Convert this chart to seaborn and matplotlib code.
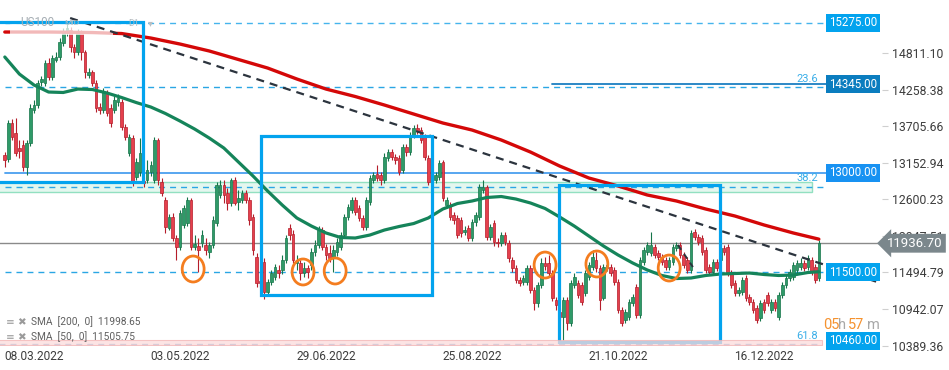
import matplotlib
matplotlib.use("Agg")
import matplotlib.pyplot as plt
import matplotlib.transforms as mtransforms
from matplotlib.patches import Rectangle, Ellipse
import numpy as np
import pandas as pd
import seaborn as sns

# daily candles US100, bar index 0..223
opens = [13272, 13211, 13756, 13605, 13378, 13423, 13090, 13453, 13953, 14028, 14376, 14361,
         14664, 14452, 14709, 14755, 14967, 15118, 15163, 14906, 14830, 15133, 14830, 14482,
         14528, 14361, 13998, 13953, 14210, 13983, 13953, 14074, 14074, 13695, 13302, 13529,
         12939, 13014, 12878, 12894, 13014, 12894, 13499, 12863, 12591, 12167, 12334, 12016,
         11880, 12213, 12243, 12591, 11880, 11895, 11940, 11910, 11804, 11910, 12243, 12667,
         12818, 12697, 12546, 12894, 12561, 12591, 12697, 12591, 12334, 11729, 11365, 11653,
         11199, 11350, 11426, 11532, 11532, 11683, 12167, 12076, 11638, 11638, 11486, 11562,
         11607, 11804, 11910, 12137, 11880, 11789, 11729, 11804, 11880, 12061, 12334, 12440,
         12591, 12470, 12319, 12182, 12561, 12894, 12984, 12969, 12894, 13226, 13317, 13241,
         13226, 13045, 13393, 13317, 13574, 13680, 13650, 13544, 13226, 12939, 12894, 12939,
         13166, 12515, 12515, 12364, 12319, 12288, 12107, 12167, 12016, 12258, 12334, 12742,
         12788, 12031, 12243, 11955, 11940, 12061, 11940, 11683, 11562, 11381, 11350, 11350,
         11562, 11229, 11033, 11305, 11638, 11638, 11486, 11078, 10897, 10821, 11078, 10730,
         11305, 11335, 11305, 11184, 11426, 11577, 11683, 11562, 11108, 11562, 11577, 11532,
         11350, 10927, 10776, 10821, 11033, 11275, 10851, 11653, 11804, 11789, 11880, 11789,
         11729, 11683, 11577, 11653, 11865, 11910, 11759, 11683, 11532, 12107, 12031, 12016,
         11834, 11577, 11502, 11653, 11683, 11865, 11880, 11486, 11335, 11184, 11199, 11411,
         11123, 11048, 10957, 10806, 11048, 11154, 10927, 11048, 10821, 11154, 11305, 11411,
         11426, 11532, 11577, 11638, 11577, 11683, 11577, 11411]
closes = [13196, 13756, 13544, 13302, 13332, 13090, 13453, 13983, 14028, 14361, 14422, 14664,
          14452, 14740, 14755, 14982, 15133, 15194, 14906, 14830, 15133, 14830, 14528, 14528,
          14361, 13983, 13953, 14225, 13907, 13756, 14104, 14134, 13695, 13544, 13544, 12863,
          13166, 13302, 12848, 13045, 13120, 13499, 12894, 12697, 12182, 12334, 12016, 11880,
          12394, 12470, 12591, 11880, 11925, 11834, 12061, 11834, 11910, 12288, 12818, 12818,
          12667, 12546, 12894, 12546, 12621, 12697, 12591, 12288, 11834, 11335, 11335, 11199,
          11350, 11486, 11577, 11486, 11683, 12016, 12061, 11683, 11683, 11486, 11562, 11502,
          11804, 11910, 12137, 11880, 11759, 11713, 11834, 11955, 12061, 12334, 12485, 12591,
          12409, 12319, 12182, 12591, 12924, 12969, 12924, 12894, 13241, 13317, 13241, 13196,
          13014, 13393, 13317, 13574, 13680, 13635, 13499, 13241, 12863, 12863, 12969, 13151,
          12621, 12591, 12334, 12288, 12061, 12092, 12137, 12016, 12258, 12364, 12788, 12788,
          12031, 12182, 11955, 11940, 12061, 11955, 11713, 11562, 11381, 11335, 11411, 11562,
          11229, 11033, 11305, 11638, 11592, 11486, 11108, 11002, 10821, 11078, 10730, 11335,
          11426, 11154, 11048, 11486, 11607, 11729, 11562, 11078, 11577, 11607, 11486, 11350,
          10927, 10730, 10897, 11048, 11123, 10851, 11683, 11834, 11910, 11910, 11759, 11729,
          11653, 11577, 11683, 11880, 11910, 11759, 11607, 11532, 12092, 12031, 11955, 11804,
          11532, 11502, 11653, 11562, 11865, 11804, 11486, 11305, 11184, 11229, 11381, 11108,
          11048, 10927, 10776, 11033, 10927, 11033, 11048, 10957, 11154, 11305, 11411, 11502,
          11607, 11638, 11638, 11562, 11713, 11502, 11381, 11936.7]
highs = [13317, 13801, 13816, 13831, 13499, 13499, 13499, 14043, 14104, 14407, 14467, 14709,
         14740, 14785, 14830, 15042, 15194, 15285, 15209, 14951, 15179, 15163, 14861, 14588,
         14558, 14407, 14058, 14285, 14255, 14043, 14164, 14195, 14119, 13741, 13589, 13574,
         13226, 13529, 12939, 13196, 13181, 13544, 13529, 12924, 12636, 12379, 12394, 12061,
         12440, 12515, 12636, 12621, 12061, 12016, 12137, 12016, 11955, 12349, 12863, 12894,
         12894, 12773, 12924, 12939, 12742, 12742, 12742, 12636, 12379, 11789, 11441, 11713,
         11396, 11532, 11623, 11607, 11759, 12061, 12228, 12137, 11759, 11683, 11653, 11607,
         11865, 11986, 12197, 12182, 11925, 11910, 11910, 12016, 12107, 12379, 12530, 12636,
         12636, 12515, 12364, 12636, 12969, 13014, 13120, 13014, 13302, 13363, 13363, 13287,
         13272, 13438, 13438, 13620, 13726, 13741, 13695, 13589, 13272, 12984, 13014, 13196,
         13196, 12636, 12561, 12409, 12364, 12334, 12197, 12213, 12303, 12409, 12833, 12894,
         12818, 12228, 12288, 12016, 12107, 12107, 11986, 11729, 11607, 11426, 11456, 11607,
         11607, 11275, 11350, 11713, 11729, 11759, 11532, 11123, 10957, 11123, 11123, 11381,
         11486, 11381, 11350, 11532, 11653, 11834, 11804, 11607, 11623, 11668, 11623, 11577,
         11396, 10972, 10942, 11093, 11169, 11320, 11729, 11880, 11955, 12107, 11925, 11834,
         11774, 11729, 11729, 11925, 11955, 11955, 11804, 11729, 12137, 12152, 12076, 12061,
         11880, 11623, 11698, 11698, 12243, 11910, 11925, 11532, 11381, 11275, 11426, 11456,
         11169, 11093, 11002, 11078, 11093, 11199, 11093, 11093, 11199, 11350, 11456, 11547,
         11653, 11683, 11713, 11683, 11759, 11729, 11623, 11986]
lows = [13090, 13166, 13499, 13257, 13226, 13030, 12969, 13408, 13907, 13983, 14316, 14316,
        14407, 14407, 14679, 14709, 14921, 15073, 14830, 14740, 14785, 14709, 14437, 14437,
        14316, 13922, 13892, 13907, 13862, 13695, 13907, 14013, 13650, 13499, 13257, 12803,
        12894, 12954, 12788, 12848, 12954, 12848, 12818, 12651, 12092, 12137, 11971, 11683,
        11834, 12167, 12197, 11834, 11834, 11502, 11880, 11759, 11713, 11865, 12197, 12621,
        12546, 12440, 12500, 12515, 12440, 12546, 12546, 12213, 11759, 11275, 11275, 11093,
        11139, 11305, 11381, 11411, 11471, 11638, 11986, 11638, 11532, 11381, 11426, 11411,
        11532, 11744, 11865, 11834, 11683, 11653, 11502, 11744, 11834, 12016, 12288, 12394,
        12364, 12273, 12137, 12137, 12515, 12848, 12878, 12818, 12848, 13181, 13196, 13136,
        12969, 12999, 13257, 13272, 13529, 13589, 13453, 13196, 12818, 12803, 12848, 12894,
        12576, 12470, 12288, 12228, 12016, 12031, 12061, 11971, 11971, 12197, 12288, 12697,
        11986, 11986, 11895, 11880, 11895, 11910, 11653, 11502, 11335, 11290, 11305, 11305,
        11184, 10927, 10972, 11260, 11532, 11426, 11063, 10927, 10776, 10473, 10624, 10685,
        11260, 11108, 11002, 11139, 11381, 11532, 11502, 10927, 11078, 11517, 11441, 11305,
        10881, 10685, 10730, 10776, 10987, 10806, 10806, 11607, 11759, 11744, 11713, 11683,
        11607, 11532, 11532, 11607, 11819, 11713, 11562, 11486, 11486, 11986, 11910, 11759,
        11486, 11456, 11456, 11517, 11638, 11759, 11441, 11260, 11139, 11139, 11154, 11063,
        11002, 10881, 10730, 10760, 10881, 10987, 10881, 10912, 10776, 11108, 11260, 11365,
        11381, 11486, 11532, 11517, 11532, 11456, 11335, 11365]

sma200_idx = [0, 12, 24, 32, 40, 48, 56, 64, 72, 80, 88, 96, 104, 112, 120, 128, 136, 144,
              152, 160, 168, 176, 184, 192, 200, 208, 216, 223]
sma200_val = [15133, 15133, 15125, 15110, 15042, 14951, 14846, 14717, 14588, 14422, 14270,
              14157, 14028, 13892, 13756, 13650, 13499, 13317, 13105, 12924, 12803, 12667,
              12576, 12455, 12349, 12213, 12092, 11998.65]
sma50_idx = [0, 4, 8, 12, 16, 20, 24, 28, 32, 36, 40, 44, 48, 52, 56, 60, 64, 68, 72, 76,
             80, 84, 88, 92, 96, 100, 104, 108, 112, 116, 120, 124, 128, 132, 136, 140, 144,
             148, 152, 156, 160, 164, 168, 172, 176, 180, 184, 188, 192, 196, 200, 204, 208,
             212, 216, 220, 223]
sma50_val = [14755, 14497, 14331, 14225, 14218, 14270, 14263, 14210, 14142, 14066, 13998,
             13900, 13786, 13665, 13529, 13378, 13166, 12954, 12727, 12515, 12319, 12197,
             12092, 12024, 12016, 12061, 12137, 12190, 12235, 12319, 12455, 12538, 12576,
             12629, 12644, 12606, 12546, 12463, 12334, 12197, 12046, 11895, 11759, 11638,
             11532, 11449, 11403, 11411, 11449, 11471, 11479, 11486, 11464, 11449, 11456,
             11494, 11505.75]

date_ticks = [8, 48, 88, 128, 168, 208]
date_labels = ["08.03.2022", "03.05.2022", "29.06.2022", "25.08.2022", "21.10.2022", "16.12.2022"]
price_ticks = [10389.36, 10942.07, 11494.79, 12047.51, 12600.23, 13152.94, 13705.66, 14258.38, 14811.10]

last_price = 11936.70
level_prices = [15275.00, 14345.00, 13000.00, 11500.00, 10460.00]
fib_labels = ["23.6", "38.2", "61.8"]
fib_prices = [14345.00, 13000.00, 10460.00]

# orange circles (bar index, price)
circle_idx = [51.6, 81.7, 90.5, 148.0, 162.2, 182.0]
circle_price = [11547, 11502, 11517, 11607, 11623, 11562]

GREEN, GREEN_EDGE = '#2f9a68', '#16754a'
RED, RED_EDGE = '#e5404d', '#b51d2a'
BLUE = '#03a3ee'


def px(x, y):
    return x / 949, 1 - y / 370


def main():
    sns.set_style("white")
    plt.rcParams['font.family'] = ['Roboto', 'DejaVu Sans']

    fig = plt.figure(figsize=(9.49, 3.70), dpi=100)
    ax = fig.add_axes([0, 24 / 370, 882 / 949, 346 / 370])
    ax.set_xlim(-1.315, 240.3)
    ax.set_ylim(10382, 15617.5)
    for s in ax.spines.values():
        s.set_visible(False)

    # candles
    df = pd.DataFrame({'o': opens, 'h': highs, 'l': lows, 'c': closes})
    df['x'] = np.arange(len(df))
    up = df['c'] >= df['o']
    for rows, fill, edge in [(df[up], GREEN, GREEN_EDGE), (df[~up], RED, RED_EDGE)]:
        ax.vlines(rows['x'], rows['l'], rows['h'], color=edge, lw=0.8, zorder=3)
        body = (rows['c'] - rows['o']).abs().clip(lower=12)
        ax.bar(rows['x'], body, bottom=rows[['o', 'c']].min(axis=1), width=0.72,
               color=fill, edgecolor=edge, linewidth=0.5, zorder=3)

    # moving averages
    sns.lineplot(x=sma200_idx, y=sma200_val, color='#d40808', lw=2.4, ax=ax, zorder=4)
    sns.lineplot(x=sma50_idx, y=sma50_val, color='#15845a', lw=2.3, ax=ax, zorder=4)

    # faded instrument panel top-left
    ax.add_patch(Rectangle((1.4, 15088), 28.2, 600, fc='white', ec='none', alpha=0.72, zorder=4.5))

    # horizontal levels
    dash = (0, (4.3, 3.6))
    ax.plot([0, 225], [15275, 15275], color='#45b4ec', lw=1, ls=dash, zorder=2)
    ax.plot([0, 225], [14300, 14300], color='#2aa6e4', lw=1, ls=dash, zorder=2)
    ax.plot([150, 225], [14345, 14345], color='#1c7fc2', lw=1.3, zorder=2)
    ax.plot([0, 225], [13000, 13000], color='#4a9fef', lw=1.3, zorder=2)
    ax.add_patch(Rectangle((-2, 12712), 223, 151, fc='#e4f7ef', ec='#92e0c1', lw=1, zorder=1))
    ax.plot([0, 224.2], [12793, 12793], color='#2aa6e4', lw=1, ls=dash, zorder=2)
    ax.plot([-2, 241], [last_price, last_price], color='#8a8a8a', lw=1, zorder=2)
    ax.plot([0, 225], [11500, 11500], color='#2aa6e4', lw=1, ls=dash, zorder=2)
    ax.plot([-2, 224], [10413, 10413], color='#6f9fd3', lw=1, ls=dash, zorder=2)

    # trend lines
    ax.plot([17.9, 239.8], [15345, 11336], color='#2c343e', lw=1.6, dashes=(3.6, 2.7), zorder=5)
    ax.plot([184.4, 188.5], [11911, 11577], color='#2c343e', lw=1.4, dashes=(3, 2.5), zorder=5)

    # boxes
    for x0, x1, y0, y1 in [(-3, 37.9, 12871, 15292), (70.2, 117, 11154, 13567),
                           (151.8, 196, 10435, 12818)]:
        ax.add_patch(Rectangle((x0, y0), x1 - x0, y1 - y0, fill=False, ec=BLUE, lw=2.3, zorder=6))

    # pink band at bottom
    ax.add_patch(Rectangle((-2, 10400), 226, 80, fc='#fcdcdc', ec='#f3b3b3', lw=0.8,
                           alpha=0.75, zorder=6.5))

    # circles
    for cx, cy in zip(circle_idx, circle_price):
        ax.add_patch(Ellipse((cx, cy), 6.0, 393, fill=False, ec='#f47d1f', lw=2, zorder=7))

    # level tags
    trans = mtransforms.blended_transform_factory(ax.transAxes, ax.transData)
    tag_colors = [BLUE, '#0b7dbf', '#1892f2', BLUE, BLUE]
    for p, col in zip(level_prices, tag_colors):
        ax.text(853 / 882, p, f"{p:.2f}", transform=trans, ha='center', va='center',
                color='white', fontsize=8.3,
                bbox=dict(boxstyle='square,pad=0.22', fc=col, ec='none'), zorder=9)
    for lab, p, y_off in zip(fib_labels, fib_prices, [6, -4, 6]):
        ax.text(807 / 882, p, lab, transform=trans, ha='center', va='bottom' if y_off > 0 else 'top',
                color='#3aaee8', fontsize=8, zorder=8)

    ax.text(1.006, last_price, f"{last_price:.2f}", transform=trans, ha='left', va='center',
            color='white', fontsize=9.5, clip_on=False,
            bbox=dict(boxstyle='larrow,pad=0.22', fc='#7b878c', ec='none'), zorder=10)

    # axes ticks
    ax.yaxis.tick_right()
    ax.set_yticks(price_ticks, [f"{v:.2f}" for v in price_ticks])
    ax.tick_params(axis='y', length=4, width=0.8, color='#cfcfcf', labelsize=8.8,
                   labelcolor='#3d3d3d', pad=3)
    ax.set_xticks(date_ticks, date_labels)
    ax.tick_params(axis='x', length=0, labelsize=8.6, labelcolor='#3d3d3d', pad=3)
    ax.grid(False)

    # overlay texts
    fig.text(*px(20, 23), "US100", fontsize=8.5, color='#a6aeb4', va='center')
    fig.text(*px(64, 23), "MID", fontsize=6, color='#b8bec2', va='center')
    fig.text(*px(128, 23), "D1", fontsize=6.5, color='#b8bec2', va='center')
    fig.text(*px(148, 23), "\u25be", fontsize=7, color='#b8bec2', va='center',
             family=['DejaVu Sans'])

    for yy, txt in [(322, "SMA  [200,  0]  11998.65"), (337, "SMA  [50,  0]  11505.75")]:
        fig.text(*px(6, yy), "\u2261 \u2716", fontsize=7.5, color='#9a9a9a', va='center',
                 family=['DejaVu Sans'])
        fig.text(*px(31, yy), txt, fontsize=7.3, color='#5f5f5f', va='center', zorder=5)

    for xx, txt, col in [(823, "05", '#f5922f'), (838, "h", '#a8a8a8'),
                         (848, "57", '#f5922f'), (867, "m", '#a8a8a8')]:
        fig.text(*px(xx, 325), txt, fontsize=10.5, color=col, va='center')

    fig.savefig("out.png", dpi=100, facecolor='white')


if '__main__' == __name__:
    main()
